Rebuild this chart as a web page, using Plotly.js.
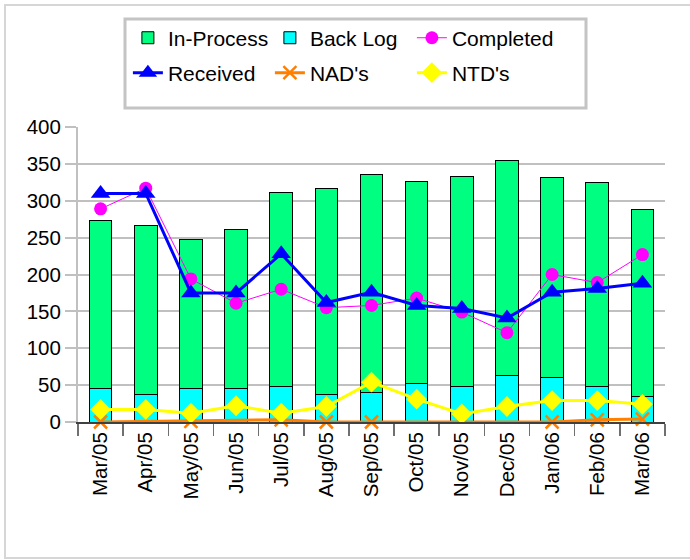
<!DOCTYPE html>
<html>
<head>
<meta charset="utf-8">
<script src="https://cdn.plot.ly/plotly-3.0.1.min.js"></script>
<style>
  body { margin: 0; padding: 0; background: #fff; }
  #chart { width: 690px; height: 560px; }
  #frame { position: absolute; left: 4px; top: 4px; width: 700px; height: 551px;
           border: 2px solid #d6d6d6; pointer-events: none; }
</style>
</head>
<body>
<div id="chart"></div>
<div id="frame"></div>
<script>
var months = ["Mar/05","Apr/05","May/05","Jun/05","Jul/05","Aug/05","Sep/05","Oct/05","Nov/05","Dec/05","Jan/06","Feb/06","Mar/06"];
var backLog   = [46, 37, 45, 46, 48, 37, 40, 52, 48, 63, 60, 48, 35];
var inProcess = [227, 229, 203, 215, 263, 280, 296, 274, 285, 291, 272, 277, 253];
var completed = [289, 317, 194, 161, 180, 155, 158, 168, 149, 121, 200, 189, 227];
var received  = [310, 310, 175, 175, 228, 162, 176, 158, 154, 141, 176, 181, 188];
var nads      = [0, null, 1, null, 3, 0, 0, null, null, null, 0, 3, 4];
var ntds      = [17, 17, 12, 22, 12, 21, 54, 31, 11, 21, 29, 29, 24];

var FONT = "Liberation Sans, Arial, sans-serif";

var traces = [
  { type: "bar", name: "Back Log", x: months, y: backLog, legend: "legend", legendrank: 2,
    marker: { color: "#00FFFF", line: { color: "#000", width: 1 } } },
  { type: "bar", name: "In-Process", x: months, y: inProcess, legend: "legend", legendrank: 1,
    marker: { color: "#00FF80", line: { color: "#000", width: 1 } } },
  { type: "scatter", mode: "lines+markers", name: "Completed", x: months, y: completed, legend: "legend", legendrank: 3,
    line: { color: "#FF00FF", width: 1 }, marker: { symbol: "circle", size: 13, color: "#FF00FF" }, cliponaxis: false },
  { type: "scatter", mode: "lines+markers", name: "Received", x: months, y: received, legend: "legend2",
    line: { color: "#0000FF", width: 3 }, marker: { symbol: "triangle-up", size: 17, color: "#0000FF" }, cliponaxis: false },
  { type: "scatter", mode: "lines+markers", name: "NAD's", x: months, y: nads, legend: "legend2", connectgaps: true,
    line: { color: "#FF8000", width: 3 }, marker: { symbol: "x-thin-open", size: 13, color: "#FF8000", line: { color: "#FF8000", width: 2.5 } }, cliponaxis: false },
  { type: "scatter", mode: "lines+markers", name: "NTD's", x: months, y: ntds, legend: "legend2",
    line: { color: "#FFFF00", width: 3 }, marker: { symbol: "diamond", size: 16, color: "#FFFF00" }, cliponaxis: false }
];

var legendCommon = {
  orientation: "h", xanchor: "left", yanchor: "middle",
  font: { family: FONT, size: 21, color: "#000" },
  bgcolor: "rgba(0,0,0,0)", borderwidth: 0,
  entrywidth: 97, entrywidthmode: "pixels", traceorder: "normal"
};

var layout = {
  width: 690, height: 560,
  margin: { l: 78, r: 25, t: 127, b: 138, autoexpand: false },
  paper_bgcolor: "#fff", plot_bgcolor: "#fff",
  font: { family: FONT, size: 20, color: "#000" },
  barmode: "stack", bargap: 0.5,
  showlegend: true,
  legend: Object.assign({}, legendCommon, { x: 0.085, y: 1 + (127 - 38) / 295.3 }),
  legend2: Object.assign({}, legendCommon, { x: 0.085, y: 1 + (127 - 73) / 295.3 }),
  xaxis: {
    type: "category", tickangle: -90, range: [-0.5, 12.5], automargin: false,
    showline: true, linecolor: "#404040", linewidth: 2,
    ticks: "outside", tickson: "boundaries", ticklen: 12, tickcolor: "#707070", tickwidth: 1.5,
    tickfont: { family: FONT, size: 20.5, color: "#000" },
    showgrid: false
  },
  yaxis: {
    range: [0, 400], dtick: 50, tick0: 0, automargin: false,
    showline: true, linecolor: "#c0c0c0", linewidth: 2,
    ticks: "outside", ticklen: 11, tickcolor: "#c0c0c0", tickwidth: 2,
    gridcolor: "#c0c0c0", gridwidth: 2, zeroline: false,
    tickfont: { family: FONT, size: 20.5, color: "#000" }
  },
  shapes: [{
    type: "rect", xref: "paper", yref: "paper",
    x0: (125 - 78) / 587, x1: (586 - 78) / 587,
    y0: 1 + (127 - 108) / 295.3, y1: 1 + (127 - 19) / 295.3,
    line: { color: "#c4c4c4", width: 3 }, fillcolor: "rgba(0,0,0,0)"
  }]
};

Plotly.newPlot("chart", traces, layout, { displayModeBar: false, staticPlot: true });
</script>
</body>
</html>
